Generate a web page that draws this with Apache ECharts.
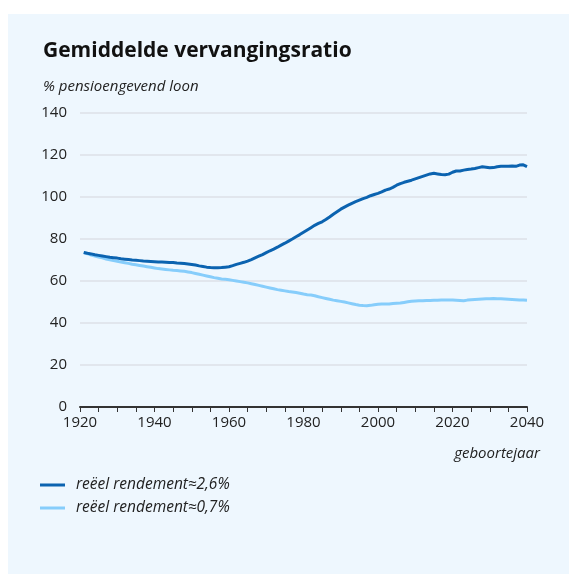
<!DOCTYPE html>
<html>
<head>
<meta charset="utf-8">
<script src="https://cdn.jsdelivr.net/npm/echarts@6/dist/echarts.min.js"></script>
<style>
  html, body { margin: 0; padding: 0; background: #fff; }
  #panel { position: absolute; left: 8px; top: 14px; right: 0; bottom: 0; background: #eef7fe; }
  #chart { position: absolute; left: 0; top: 0; width: 569px; height: 574px; }
</style>
</head>
<body>
<div id="panel"></div>
<div id="chart"></div>
<script>
const startYear = 1921;
const xTicks = [1920, 1940, 1960, 1980, 2000, 2020, 2040];
const yTicks = [0, 20, 40, 60, 80, 100, 120, 140];
const seriesNames = ["reëel rendement≈2,6%", "reëel rendement≈0,7%"];

// annual values 1921..2040
const high = [
  73.6, 73.2, 72.9, 72.5, 72.2, 71.9, 71.6, 71.3, 71.1, 70.9,
  70.6, 70.4, 70.2, 70.0, 69.9, 69.7, 69.5, 69.4, 69.3, 69.2,
  69.1, 69.0, 68.9, 68.8, 68.8, 68.6, 68.5, 68.3, 68.1, 67.9,
  67.6, 67.2, 66.9, 66.6, 66.4, 66.3, 66.3, 66.4, 66.6, 66.8,
  67.3, 67.9, 68.4, 68.9, 69.5, 70.2, 71.0, 71.8, 72.6, 73.5,
  74.4, 75.2, 76.1, 77.1, 78.0, 79.0, 80.0, 81.1, 82.1, 83.2,
  84.3, 85.4, 86.5, 87.4, 88.2, 89.3, 90.5, 91.8, 93.0, 94.2,
  95.2, 96.1, 97.0, 97.8, 98.5, 99.2, 99.8, 100.6, 101.2, 101.7,
  102.4, 103.3, 103.8, 104.6, 105.6, 106.4, 107.0, 107.5, 108.0, 108.6,
  109.2, 109.8, 110.4, 111.0, 111.3, 111.0, 110.7, 110.6, 110.9, 111.8,
  112.4, 112.4, 112.8, 113.1, 113.3, 113.6, 114.0, 114.4, 114.2, 113.9,
  114.0, 114.4, 114.6, 114.7, 114.6, 114.8, 114.6, 115.2, 115.3, 114.5
];
const low = [
  73.5, 73.0, 72.4, 71.9, 71.4, 71.0, 70.5, 70.1, 69.7, 69.4,
  69.0, 68.7, 68.4, 68.0, 67.7, 67.4, 67.1, 66.8, 66.5, 66.2,
  65.9, 65.7, 65.5, 65.3, 65.1, 65.0, 64.8, 64.6, 64.3, 64.0,
  63.6, 63.2, 62.8, 62.4, 62.0, 61.6, 61.3, 61.0, 60.8, 60.6,
  60.3, 60.0, 59.7, 59.4, 59.1, 58.7, 58.3, 57.9, 57.5, 57.1,
  56.7, 56.3, 55.9, 55.6, 55.3, 55.0, 54.8, 54.5, 54.2, 53.8,
  53.5, 53.3, 53.0, 52.5, 52.1, 51.7, 51.3, 50.9, 50.6, 50.3,
  50.0, 49.6, 49.2, 48.8, 48.5, 48.3, 48.2, 48.4, 48.7, 48.9,
  49.0, 49.0, 49.1, 49.3, 49.4, 49.5, 49.8, 50.1, 50.4, 50.5,
  50.6, 50.6, 50.7, 50.7, 50.8, 50.8, 50.9, 50.9, 51.0, 50.9,
  50.8, 50.7, 50.6, 50.9, 51.1, 51.2, 51.3, 51.4, 51.5, 51.6,
  51.7, 51.6, 51.5, 51.4, 51.3, 51.2, 51.1, 51.0, 50.9, 50.8
];

const toPairs = (arr) => arr.map((v, i) => [startYear + i, v]);

const fontFamily = "'Open Sans', sans-serif";
const chart = echarts.init(document.getElementById("chart"));

chart.setOption({
  backgroundColor: "transparent",
  animation: false,
  title: [
    {
      text: "Gemiddelde vervangingsratio",
      left: 38, top: 36,
      textStyle: { fontFamily, fontSize: 21, fontWeight: "bold", color: "#111" }
    },
    {
      text: "% pensioengevend loon",
      left: 38, top: 74,
      textStyle: { fontFamily, fontSize: 15, fontStyle: "italic", fontWeight: "normal", color: "#222" }
    },
    {
      text: "geboortejaar",
      right: 24, top: 441,
      textStyle: { fontFamily, fontSize: 15, fontStyle: "italic", fontWeight: "normal", color: "#222" }
    }
  ],
  legend: {
    orient: "vertical",
    left: 35, top: 472,
    icon: "rect",
    itemWidth: 25, itemHeight: 3,
    itemGap: 7,
    textStyle: { fontFamily, fontSize: 15.5, fontStyle: "italic", color: "#222", padding: [0, 0, 0, 6] },
    data: seriesNames
  },
  grid: { left: 80, right: 42, top: 113, bottom: 167 },
  xAxis: {
    type: "value",
    min: 1920, max: 2040, interval: 5,
    axisLine: { show: true, onZero: false, lineStyle: { color: "#333", width: 2 } },
    axisTick: { show: true, length: 5, lineStyle: { color: "#333", width: 1 } },
    splitLine: { show: false },
    axisLabel: {
      fontFamily, fontSize: 15, color: "#222", margin: 8,
      formatter: (v) => (xTicks.includes(v) ? String(v) : "")
    }
  },
  yAxis: {
    type: "value",
    min: yTicks[0], max: yTicks[yTicks.length - 1], interval: 20,
    axisLine: { show: false },
    axisTick: { show: false },
    splitLine: { lineStyle: { color: "#dde1e7", width: 1.5 } },
    axisLabel: { fontFamily, fontSize: 15, color: "#222", margin: 13 }
  },
  series: [
    {
      name: seriesNames[0],
      type: "line",
      data: toPairs(high),
      showSymbol: false,
      lineStyle: { color: "#0b63b0", width: 3 },
      itemStyle: { color: "#0b63b0" },
      z: 3
    },
    {
      name: seriesNames[1],
      type: "line",
      data: toPairs(low),
      showSymbol: false,
      lineStyle: { color: "#86cdfb", width: 3 },
      itemStyle: { color: "#86cdfb" },
      z: 2
    }
  ]
});

window.addEventListener("resize", () => chart.resize());
</script>
</body>
</html>
